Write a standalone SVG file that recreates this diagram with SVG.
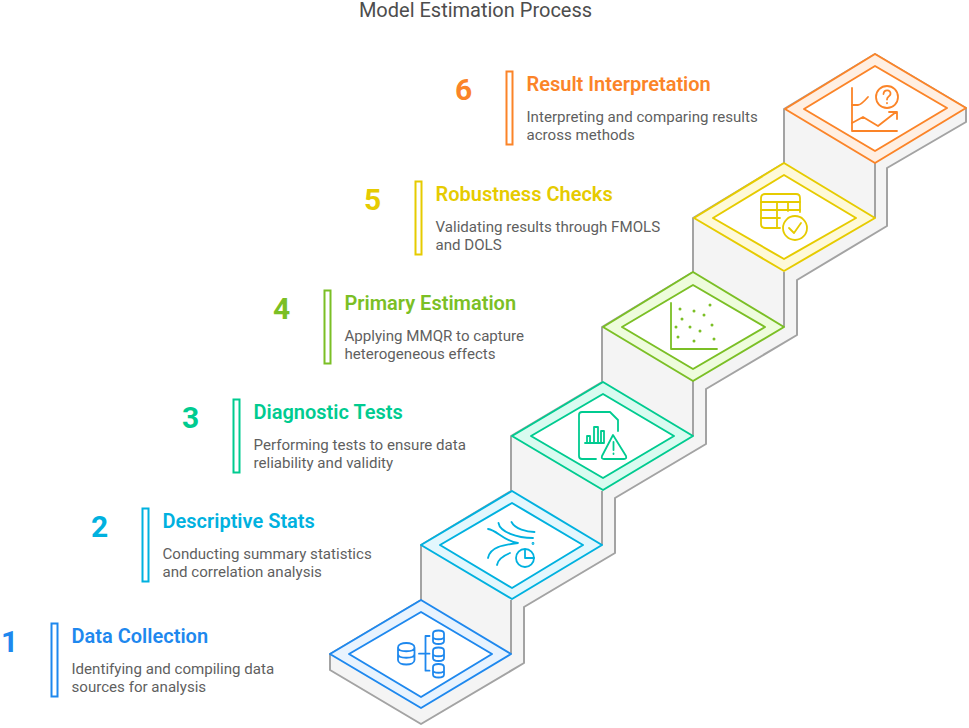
<svg xmlns="http://www.w3.org/2000/svg" width="969" height="728" viewBox="0 0 969 728">
<style>
text{font-family:Roboto,"Liberation Sans",sans-serif}
.title{font-size:20px;fill:#4d4d4d}
.num{font-size:30px;font-weight:700}
.head{font-size:20px;font-weight:600}
.desc{font-size:15.100px;fill:#5f5f5f}
.riser{fill:#f4f4f4;stroke:#a3a3a3;stroke-width:2;stroke-linejoin:round}
.line{fill:none;stroke:#a3a3a3;stroke-width:2}
.bar{fill:#fff;stroke-width:2}
.outer,.inner{stroke-width:2;stroke-linejoin:round}
.inner{fill:#fff}
.ic{fill:none;stroke-width:1.8;stroke-linecap:round;stroke-linejoin:round}
.s1{stroke:#1e88ee}.s2{stroke:#00b1df}.s3{stroke:#00cb90}.s4{stroke:#7bbf25}.s5{stroke:#e6cb00}.s6{stroke:#fb8428}
.f1{fill:#1e88ee}.f2{fill:#00b1df}.f3{fill:#00cb90}.f4{fill:#7bbf25}.f5{fill:#e6cb00}.f6{fill:#fb8428}
</style>
<rect width="969" height="728" fill="#fff"/>
<text class="title" x="475.500" y="17" text-anchor="middle">Model Estimation Process</text>
<g id="connectors">
<path class="riser" d="M330 654V670L421 724L524 663V607L615 553V498L706 444V389L797 335V280L887 226V168L966 122V108L875 54L784 109V163L693 218V272L602 327V382L511 436V491L421 545V600Z"/>
<path class="line" d="M511 600V654M602 491V545M693 381V436M784 272V327M875 163V218"/>
</g>
<g id="node1">
<path class="outer s1" fill="#e8f3fe" d="M330 654L421 600L511 654L421 708Z"/>
<path class="inner s1" d="M349 654L421 612L492 654L421 697Z"/>
<g class="ic s1"><path d="M398 647.500C398 641.500 414.500 641.500 414.500 647.500V660C414.500 666 398 666 398 660ZM398 647.500C398 652.500 414.500 652.500 414.500 647.500M398 654C398 659 414.500 659 414.500 654"/><path d="M419 653.700H429.500M429.500 636H425.500V670.700H429.500"/><path d="M433 633.500C433 629.500 444 629.500 444 633.500V641C444 645 433 645 433 641ZM433 637C433 640 444 640 444 637"/><path d="M433 650.500C433 646.500 444 646.500 444 650.500V658C444 662 433 662 433 658ZM433 654C433 657 444 657 444 654"/><path d="M433 667C433 663 444 663 444 667V674.500C444 678.500 433 678.500 433 674.500ZM433 670.500C433 673.500 444 673.500 444 670.500"/></g>
<rect class="bar s1" x="51.500" y="623.500" width="6" height="73"/>
<text class="num f1" x="1" y="652">1</text>
<text class="head f1" x="71.500" y="643">Data Collection</text>
<text class="desc" x="71.500" y="674">Identifying and compiling data</text>
<text class="desc" x="71.500" y="692">sources for analysis</text>
</g>
<g id="node2">
<path class="outer s2" fill="#e3f7fd" d="M421 545L512 491L602 545L512 599Z"/>
<path class="inner s2" d="M440 545L512 503L583 545L512 588Z"/>
<g class="ic s2"><path d="M488 529C497 530 503 541 518 543C503 545 490 547 488 558"/><path d="M498.500 523C500 532 517 538 533 538M511.500 522C515 529 527 532 534.500 532M497 565C498 558 505 555 510 553"/><circle cx="525" cy="558" r="9"/><path d="M525 550V558H534"/><circle cx="533" cy="543.500" r=".5"/></g>
<rect class="bar s2" x="142.500" y="508.500" width="6" height="73"/>
<text class="num f2" x="91" y="537">2</text>
<text class="head f2" x="162.500" y="528">Descriptive Stats</text>
<text class="desc" x="162.500" y="559">Conducting summary statistics</text>
<text class="desc" x="162.500" y="577">and correlation analysis</text>
</g>
<g id="node3">
<path class="outer s3" fill="#d9fbf0" d="M512 436L603 382L693 436L603 490Z"/>
<path class="inner s3" d="M531 436L603 394L674 436L603 478Z"/>
<g class="ic s3"><path d="M596 459H582Q579 459 579 456V415Q579 412 582 412H610L618 420V431"/><path d="M585 443H603M587 443V436H590V443M594 443V427H598V443M601 443V431H604V443"/><path d="M613 435L626 456Q627 459 624 459H604Q601 459 602 456Z"/><path d="M613.500 442V450M613.500 453.500V454"/></g>
<rect class="bar s3" x="233.500" y="399.500" width="6" height="73"/>
<text class="num f3" x="182" y="428">3</text>
<text class="head f3" x="253.500" y="419">Diagnostic Tests</text>
<text class="desc" x="253.500" y="450">Performing tests to ensure data</text>
<text class="desc" x="253.500" y="468">reliability and validity</text>
</g>
<g id="node4">
<path class="outer s4" fill="#eefcdc" d="M603 327L693 272L784 327L693 381Z"/>
<path class="inner s4" d="M622 327L693 285L765 327L693 369Z"/>
<path class="ic s4" d="M671 303V349H717"/>
<g class="f4"><circle cx="680" cy="309" r="1.500"/><circle cx="710" cy="305" r="1.500"/><circle cx="694" cy="311" r="1.500"/><circle cx="704" cy="315" r="1.500"/><circle cx="682" cy="319" r="1.500"/><circle cx="712" cy="325" r="1.500"/><circle cx="676" cy="327" r="1.500"/><circle cx="690" cy="327" r="1.500"/><circle cx="700" cy="331" r="1.500"/><circle cx="678" cy="337" r="1.500"/><circle cx="694" cy="341" r="1.500"/><circle cx="714" cy="339" r="1.500"/></g>
<rect class="bar s4" x="324.500" y="290.500" width="6" height="73"/>
<text class="num f4" x="273" y="319">4</text>
<text class="head f4" x="344.500" y="310">Primary Estimation</text>
<text class="desc" x="344.500" y="341">Applying MMQR to capture</text>
<text class="desc" x="344.500" y="359">heterogeneous effects</text>
</g>
<g id="node5">
<path class="outer s5" fill="#fef9d8" d="M694 218L784 163L875 218L784 271Z"/>
<path class="inner s5" d="M713 218L784 175L856 218L784 259Z"/>
<g class="ic s5"><path d="M780 228H765Q761 228 761 224V198Q761 194 765 194H796Q800 194 800 198V212"/><path d="M761 202H800M761 210H800M761 218H780M777 202V228M788 202V211"/><circle cx="795" cy="228" r="12"/><path d="M789 228L794 233L801 223"/></g>
<rect class="bar s5" x="415.500" y="181.500" width="6" height="73"/>
<text class="num f5" x="364" y="210">5</text>
<text class="head f5" x="435.500" y="201">Robustness Checks</text>
<text class="desc" x="435.500" y="232">Validating results through FMOLS</text>
<text class="desc" x="435.500" y="250">and DOLS</text>
</g>
<g id="node6">
<path class="outer s6" fill="#ffefe2" d="M785 109L875 54L966 108L875 163Z"/>
<path class="inner s6" d="M804 109L875 66L947 108L875 151Z"/>
<g class="ic s6"><path d="M852 88V131H897"/><path d="M852 105H858Q861 105 868 97"/><circle cx="887" cy="97" r="11"/><path d="M883.500 94C884 89 891 89.500 890.500 94C890 96.500 887 96.500 887 99.500M887 103V103.300"/><path d="M852 123L863 117L878 126L896 112M889 112H897V119"/></g>
<rect class="bar s6" x="506.500" y="71.500" width="6" height="73"/>
<text class="num f6" x="455" y="100">6</text>
<text class="head f6" x="526.500" y="91">Result Interpretation</text>
<text class="desc" x="526.500" y="122">Interpreting and comparing results</text>
<text class="desc" x="526.500" y="140">across methods</text>
</g>
</svg>
